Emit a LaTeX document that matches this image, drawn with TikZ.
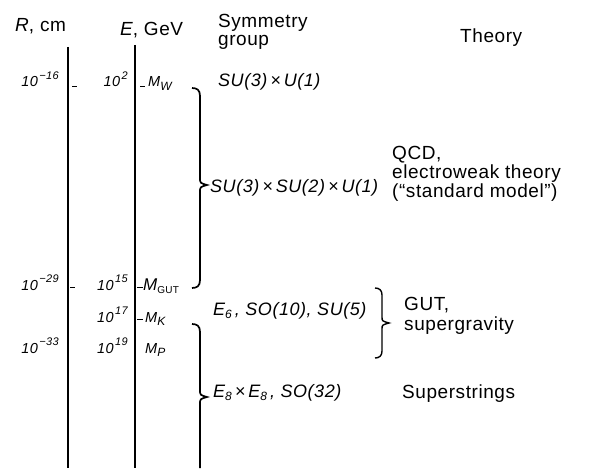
\documentclass[tikz,border=0pt]{standalone}
\usepackage{fontspec}
\setmainfont{Liberation Sans}[LetterSpace=3]
\newcommand{\mypow}[2]{#1\kern1.5pt\raisebox{7.5pt}{\fontsize{11}{11}\selectfont #2}}
\newcommand{\mysub}[1]{\raisebox{-3.5pt}{\fontsize{12}{12}\selectfont #1}}
\begin{document}
\begin{tikzpicture}[x=1pt,y=-1pt,
  lbl/.style={inner sep=0pt, font=\fontsize{19}{18}\selectfont},
  grp/.style={inner sep=0pt, font=\fontsize{18}{18}\selectfont\itshape},
  num/.style={inner sep=0pt, font=\fontsize{14.5}{15}\selectfont\itshape},
  axis/.style={line width=1.5pt},
  brc/.style={line width=1.7pt},
  tickmark/.style={line width=0.8pt}]
\useasboundingbox (0,0) rectangle (593,468);

% headers
\node[lbl, anchor=base west] (hR) at (15,32) {\textit{R}, cm};
\node[lbl, anchor=base west] (hE) at (120,36) {\textit{E}, GeV};
\node[lbl, anchor=base west, align=left] (hS) at (218,46) {Symmetry\\group};
\node[lbl, anchor=base west] (hT) at (460,43) {Theory};

% axes
\coordinate (Rt) at (68,47); \coordinate (Rb) at (68,468);
\coordinate (Et) at (135,45); \coordinate (Eb) at (135,468);
\draw[axis] (Rt) -- (Rb);
\draw[axis] (Et) -- (Eb);

% rows
\node[num, anchor=base east] (r16) at (59,87) {\mypow{10}{−16}};
\node[num, anchor=base east] (e2) at (128,87) {\mypow{10}{2}};
\node[num, anchor=base west] (mw) at (148,87) {M\mysub{W}};

\node[num, anchor=base east] (r29) at (59,290) {\mypow{10}{−29}};
\node[num, anchor=base east] (e15) at (128,290) {\mypow{10}{15}};
\node[num, anchor=base west] (mgut) at (143,290) {\fontsize{17}{15}\selectfont M\mysub{\upshape\fontsize{10}{10}\selectfont GUT}};

\node[num, anchor=base east] (e17) at (128,322) {\mypow{10}{17}};
\node[num, anchor=base west] (mk) at (145,322) {M\mysub{K}};

\node[num, anchor=base east] (r33) at (59,353) {\mypow{10}{−33}};
\node[num, anchor=base east] (e19) at (128,353) {\mypow{10}{19}};
\node[num, anchor=base west] (mp) at (145,353) {M\mysub{P}};

% tick marks
\coordinate (ta1) at (72,86); \coordinate (ta2) at (77,86);
\coordinate (tb1) at (140,86); \coordinate (tb2) at (145,86);
\coordinate (tc1) at (70,287); \coordinate (tc2) at (75,287);
\coordinate (td1) at (137,287); \coordinate (td2) at (143,287);
\coordinate (te1) at (137,319); \coordinate (te2) at (143,319);
\draw[tickmark] (ta1) -- (ta2);
\draw[tickmark] (tb1) -- (tb2);
\draw[tickmark] (tc1) -- (tc2);
\draw[tickmark] (td1) -- (td2);
\draw[tickmark] (te1) -- (te2);

% symmetry groups
\node[grp, anchor=base west] (g1) at (218,87) {SU(3)\,×\,U(1)};
\node[grp, anchor=base west] (g2) at (210,192) {SU(3)\,×\,SU(2)\,×\,U(1)};
\node[grp, anchor=base west] (g3) at (213,315) {E\mysub{6}\,, SO(10), SU(5)};
\node[grp, anchor=base west] (g4) at (213,397) {E\mysub{8}\,×\,E\mysub{8}\,, SO(32)};

% theories
\node[lbl, anchor=base west, align=left, font=\fontsize{19}{17}\selectfont] (t1) at (392,197) {QCD,\\electroweak theory\\(“standard model”)};
\node[lbl, anchor=base west, align=left, font=\fontsize{19}{20}\selectfont] (t2) at (404,330) {GUT,\\supergravity};
\node[lbl, anchor=base west] (t3) at (402,398) {Superstrings};

% braces
\coordinate (b1t) at (192,88); \coordinate (b1m) at (207,185); \coordinate (b1b) at (192,288);
\draw[brc] (b1t) .. controls (197,88) and (200,90) .. (200,96) -- (200,178)
  .. controls (200,183) .. (b1m) .. controls (200,187) .. (200,192) -- (200,280)
  .. controls (200,286) and (197,288) .. (b1b);

\coordinate (b2t) at (192,324); \coordinate (b2m) at (207,397); \coordinate (b2b) at (200,468);
\draw[brc] (b2t) .. controls (197,324) and (200,326) .. (200,332) -- (200,390)
  .. controls (200,395) .. (b2m) .. controls (200,399) .. (200,404) -- (b2b);

\coordinate (b3t) at (375,288); \coordinate (b3m) at (389,323); \coordinate (b3b) at (375,358);
\draw[brc, line width=1.4pt] (b3t) .. controls (379,288) and (382,290) .. (382,295) -- (382,317)
  .. controls (382,321) .. (b3m) .. controls (382,325) .. (382,329) -- (382,351)
  .. controls (382,356) and (379,358) .. (b3b);
\end{tikzpicture}
\end{document}
